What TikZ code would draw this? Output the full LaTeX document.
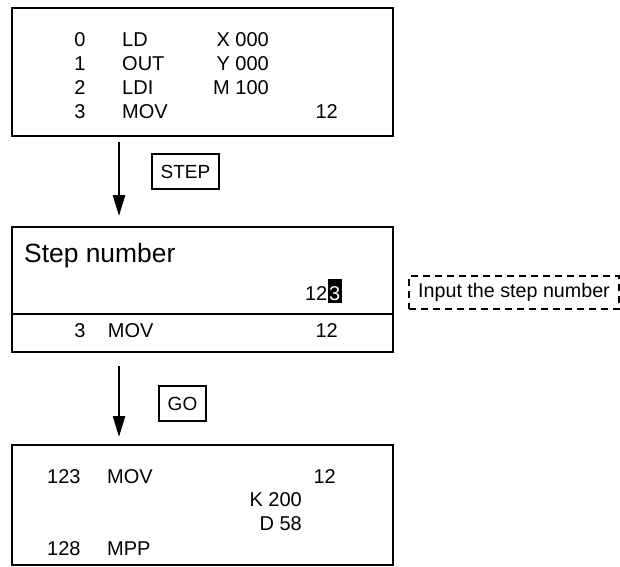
\documentclass[tikz,border=0pt]{standalone}
\usepackage{fontspec}
\setmainfont{Liberation Sans}
\usetikzlibrary{arrows.meta}

\begin{document}
\begin{tikzpicture}[x=1pt, y=-1pt,
    screen/.style={draw, line width=2pt, inner sep=0pt, minimum width=381pt},
    keybox/.style={draw, line width=1.6pt, inner sep=0pt, minimum height=35pt,
        font=\fontsize{19pt}{22pt}\selectfont},
    txt/.style={inner sep=0pt, font=\fontsize{20pt}{24pt}\selectfont},
    flow/.style={-{Triangle[length=21pt, width=12pt]}, line width=2.5pt}]
    \useasboundingbox (0,0) rectangle (620,566);
    % Screens
    \node[screen, minimum height=128pt] (scr1) at (202.5,72) {};
    \node[screen, minimum height=87pt] (scr2) at (202.5,270.5) {};
    \node[screen, minimum height=38pt] (scr2b) at (202.5,333) {};
    \node[screen, minimum height=120pt] (scr3) at (202.5,505) {};
    % Keys
    \node[keybox, minimum width=67pt] (stepkey) at (185.5,171.5) {STEP};
    \node[keybox, minimum width=47pt] (gokey) at (182.5,403.5) {GO};
    % Arrows between screens
    \coordinate (ax) at (119,0);
    \draw[flow] ([yshift=-5pt]scr1.south -| ax) -- ([yshift=10pt]scr2.north -| ax);
    \draw[flow] ([yshift=-13pt]scr2b.south -| ax) -- ([yshift=7pt]scr3.north -| ax);
    % Program list
    \foreach \st/\ins/\dev/\y in {0/LD/X 000/46, 1/OUT/Y 000/70, 2/LDI/M 100/94} {
        \node[txt, anchor=base] (st\st) at (80,\y) {\st};
        \node[txt, anchor=base west] (ins\st) at (122,\y) {\ins};
        \node[txt, anchor=base east] (dev\st) at (269,\y) {\dev};
    }
    \node[txt, anchor=base] (st3) at (80,118) {3};
    \node[txt, anchor=base west] (ins3) at (122,118) {MOV};
    \node[txt, anchor=base east] (dev3) at (338,118) {12};
    % Step number entry
    \node[inner sep=0pt, anchor=base west, font=\fontsize{26.4pt}{30pt}\selectfont]
        (steplbl) at (24,262) {Step number};
    \node[txt, anchor=base east, fill=black, text=white, inner xsep=1.5pt,
        text height=21pt, text depth=3pt] (cursor) at (342,300) {3};
    \node[txt, anchor=base east] (entry) at (cursor.base west) {12};
    \node[txt, anchor=base] (curst) at (80,337) {3};
    \node[txt, anchor=base west] (curins) at (107.7,337) {MOV};
    \node[txt, anchor=base east] (curdev) at (338,337) {12};
    % Hint
    \node[draw, line width=1.5pt, dash pattern=on 7pt off 5pt, inner sep=0pt,
        minimum width=210pt, minimum height=33pt, font=\fontsize{19.7pt}{23pt}\selectfont]
        (hint) at (514,292.5) {Input the step number};
    % Result screen
    \node[txt, anchor=base west] (rst1) at (47,483) {123};
    \node[txt, anchor=base west] (rins1) at (107,483) {MOV};
    \node[txt, anchor=base east] (rdev1) at (336,483) {12};
    \node[txt, anchor=base east] (rdev2) at (302,506) {K 200};
    \node[txt, anchor=base east] (rdev3) at (302,530) {D 58};
    \node[txt, anchor=base west] (rst2) at (47,555) {128};
    \node[txt, anchor=base west] (rins2) at (107,555) {MPP};
\end{tikzpicture}
\end{document}
